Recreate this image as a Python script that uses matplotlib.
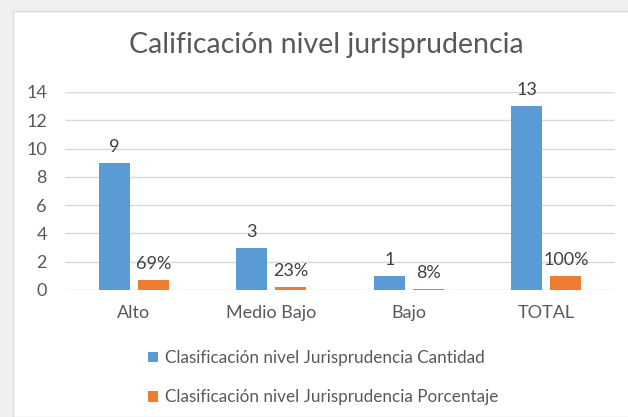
import numpy as np
import matplotlib
matplotlib.use('Agg')
import matplotlib.pyplot as plt
from matplotlib.patches import Rectangle

categories = ['Alto', 'Medio Bajo', 'Bajo', 'TOTAL']
cantidad = [9, 3, 1, 13]
porcentaje = [0.69, 0.23, 0.08, 1.00]
porcentaje_labels = ['69%', '23%', '8%', '100%']
title = 'Calificación nivel jurisprudencia'
serie_cantidad = 'Clasificación nivel Jurisprudencia Cantidad'
serie_porcentaje = 'Clasificación nivel Jurisprudencia Porcentaje'

blue = '#5B9BD5'
orange = '#ED7D31'
text_col = '#595959'
plt.rcParams['font.family'] = ['Lato', 'DejaVu Sans']

W, H = 628, 417
fig = plt.figure(figsize=(W / 100, H / 100), dpi=100)
fig.patch.set_facecolor('#f0f0f0')

# white chart area with light border
fig.patches.append(Rectangle((13 / W, 0), 1, 1 - 11 / H, transform=fig.transFigure,
                             facecolor='white', edgecolor='#d9d9d9', linewidth=1, zorder=-5))

ax = fig.add_axes([65 / W, 1 - 290 / H, 550 / W, 198 / H])
ax.set_facecolor('none')

x = np.arange(len(categories))
w = 0.225
off = 0.142
b1 = ax.bar(x - off, cantidad, w, color=blue, zorder=3)
b2 = ax.bar(x + off, porcentaje, w, color=orange, zorder=3)

for xi, v in zip(x, cantidad):
    ax.text(xi - off, v + 0.55, str(v), ha='center', va='bottom', fontsize=13, color='#404040')
for xi, v, lab in zip(x, porcentaje, porcentaje_labels):
    ax.text(xi + off, v + 0.55, lab, ha='center', va='bottom', fontsize=13, color='#404040')

ax.set_xlim(-0.5, len(categories) - 0.5)
ax.set_ylim(0, 14)
ax.set_yticks(range(0, 15, 2))
ax.set_xticks(x)
ax.set_xticklabels(categories)
ax.tick_params(axis='both', length=0, labelsize=13, labelcolor=text_col)
ax.tick_params(axis='x', pad=11)
ax.tick_params(axis='y', pad=13)
ax.grid(axis='y', color='#d9d9d9', linewidth=1, zorder=0)
for s in ax.spines.values():
    s.set_visible(False)

fig.text(0.52, 1 - 45 / H, title, ha='center', va='center', fontsize=20.5, color=text_col)

leg = fig.legend([b1, b2], [serie_cantidad, serie_porcentaje], loc='upper left',
                 bbox_to_anchor=(133 / W, 1 - 335 / H), ncol=1, frameon=False,
                 fontsize=12.3, labelcolor=text_col, handlelength=0.55, handleheight=0.55,
                 handletextpad=0.4, labelspacing=1.35)

fig.savefig('out.png', dpi=100, facecolor=fig.get_facecolor())
